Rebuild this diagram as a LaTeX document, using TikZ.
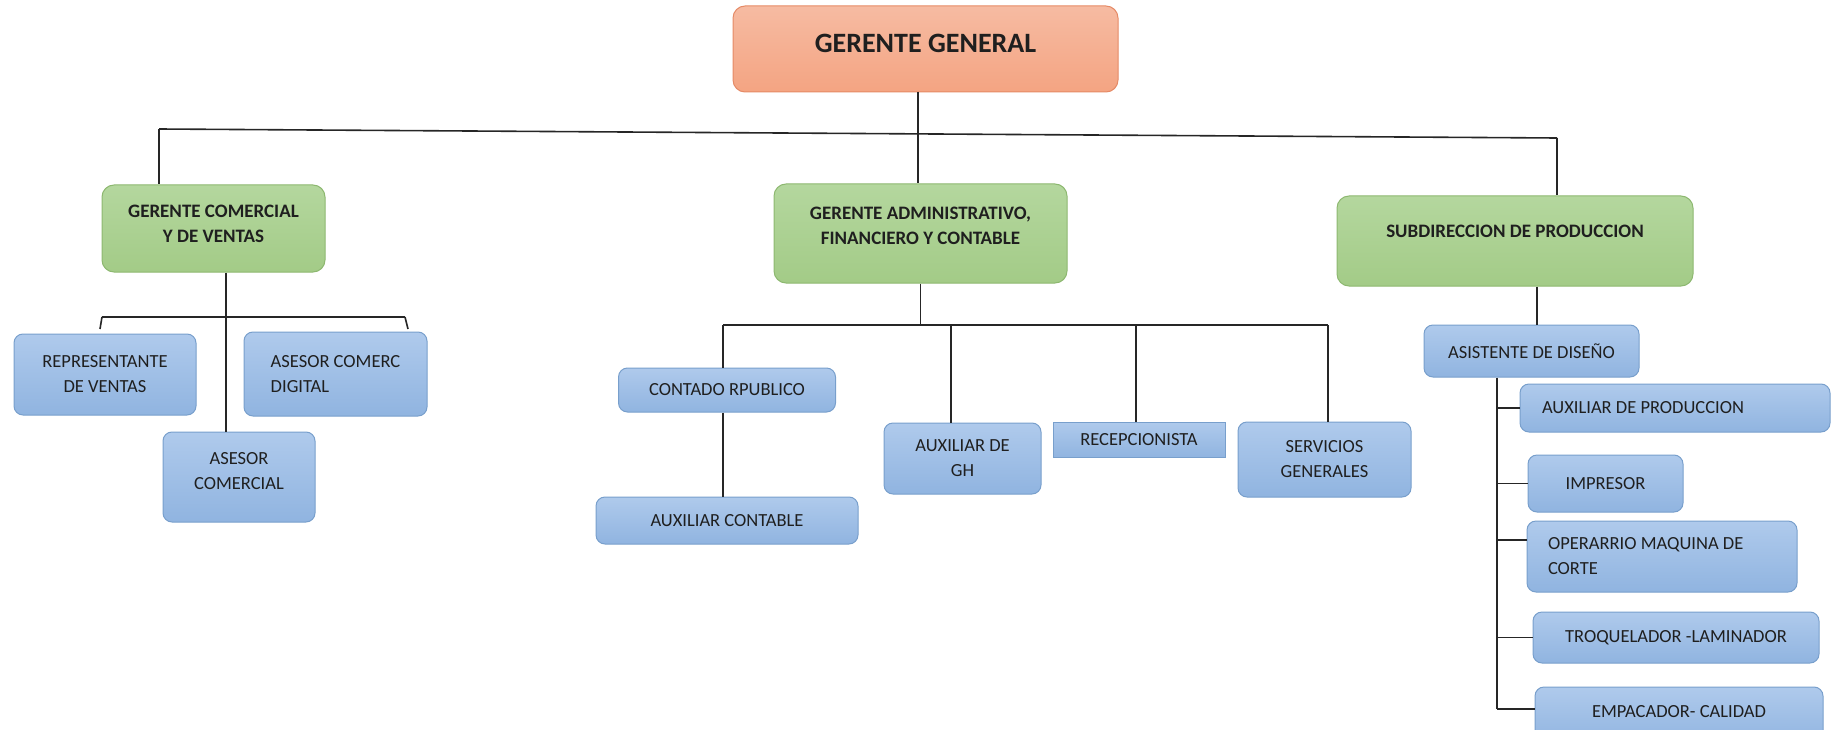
\documentclass[tikz,border=0pt]{standalone}
\usepackage{fontspec}
\setmainfont{Carlito}
\usetikzlibrary{positioning}

\definecolor{naranja}{HTML}{F4A482}
\definecolor{naranjaclaro}{HTML}{F6BBA2}
\definecolor{naranjaborde}{HTML}{E58A66}
\definecolor{verde}{HTML}{A3CB87}
\definecolor{verdeclaro}{HTML}{B4D79E}
\definecolor{verdeborde}{HTML}{8DB870}
\definecolor{azul}{HTML}{90B4E0}
\definecolor{azulclaro}{HTML}{AFCAEC}
\definecolor{azulborde}{HTML}{789FCC}

\begin{document}
\begin{tikzpicture}[x=1pt, y=-1pt,
	every node/.style={align=center,
                       inner sep=2pt,
                       text=black!88,
                       font=\fontsize{18.5}{25}\selectfont
                       },
	general/.style={draw=naranjaborde, line width=1pt,
                    rounded corners=12pt,
                    top color=naranjaclaro, bottom color=naranja,
                    font=\fontsize{28}{32}\selectfont\bfseries
    },
	area/.style={draw=verdeborde, line width=1pt,
                 rounded corners=12pt,
                 top color=verdeclaro, bottom color=verde,
                 font=\fontsize{19}{25}\selectfont\bfseries
    },
	cargo/.style={draw=azulborde, line width=1pt,
                  rounded corners=9pt,
                  top color=azulclaro, bottom color=azul
    },
	enlace/.style={line width=1.6pt, black!85}
]
	\useasboundingbox (0,0) rectangle (1838,730);

	% direccion
	\node (gg) [general, minimum width=385pt, minimum height=86pt, text depth=12pt] at (925.5,49) {GERENTE GENERAL};
	\node (gc) [area, minimum width=223pt, minimum height=87pt, text depth=10pt] at (213.5,228.5) {GERENTE COMERCIAL\\ Y DE VENTAS};
	\node (ga) [area, minimum width=293pt, minimum height=99pt, text depth=15pt] at (920.5,233.5) {GERENTE ADMINISTRATIVO,\\ FINANCIERO Y CONTABLE};
	\node (sp) [area, minimum width=356pt, minimum height=90pt, text depth=20pt] at (1515,241) {SUBDIRECCION DE PRODUCCION};

	% comercial
	\node (rep) [cargo, minimum width=182pt, minimum height=81pt] at (105,374.5) {REPRESENTANTE\\ DE VENTAS};
	\node (acd) [cargo, minimum width=183pt, minimum height=84pt, align=flush left] at (335.5,374) {ASESOR COMERC\\ DIGITAL};
	\node (ac) [cargo, minimum width=152pt, minimum height=90pt, text depth=13pt] at (239,477) {ASESOR\\ COMERCIAL};

	% administrativo
	\node (cr) [cargo, minimum width=217pt, minimum height=44pt] at (727,390) {CONTADO RPUBLICO};
	\node (acont) [cargo, minimum width=262pt, minimum height=47pt] at (727,520.5) {AUXILIAR CONTABLE};
	\node (agh) [cargo, minimum width=157pt, minimum height=71pt] at (962.5,458.5) {AUXILIAR DE\\ GH};
	\node (rec) [cargo, rounded corners=0pt, minimum width=172pt, minimum height=35pt] at (1139,439.5) {RECEPCIONISTA};
	\node (sg) [cargo, minimum width=173pt, minimum height=75pt] at (1324.5,459.5) {SERVICIOS\\ GENERALES};

	% produccion
	\node (add) [cargo, minimum width=215pt, minimum height=52pt] at (1531.5,351) {ASISTENTE DE DISEÑO};
	\node (ap) [cargo, minimum width=310pt, minimum height=48pt, text width=266pt, inner xsep=22pt, align=flush left] at (1675,408) {AUXILIAR DE PRODUCCION};
	\node (imp) [cargo, minimum width=155pt, minimum height=57pt] at (1605.5,483.5) {IMPRESOR};
	\node (omc) [cargo, minimum width=270pt, minimum height=71pt, text width=228pt, inner xsep=21pt, align=flush left] at (1662,556.5) {OPERARRIO MAQUINA DE\\ CORTE};
	\node (tl) [cargo, minimum width=286pt, minimum height=51pt] at (1676,637.5) {TROQUELADOR -LAMINADOR};
	\node (ec) [cargo, minimum width=288pt, minimum height=58pt, text depth=9pt] at (1679,716) {EMPACADOR- CALIDAD};

	% barra principal
	\coordinate (barL) at (159,129);
	\coordinate (barM) at (918,133);
	\coordinate (barR) at (1557,138);
	\draw[enlace] (barL) -- (barR);
	\draw[enlace] (gg.south -| barM) -- (barM);
	\draw[enlace] (barM) -- (ga.north -| barM);
	\draw[enlace] (barL) -- (gc.north -| barL);
	\draw[enlace] (barR) -- (sp.north -| barR);

	% comercial
	\coordinate (lj) at (226,317);
	\coordinate (lL) at (102,317);
	\coordinate (lR) at (405,317);
	\draw[enlace] (gc.south -| lj) -- (ac.north -| lj);
	\draw[enlace] (lL) -- (lR);
	\draw[enlace] (lL) -- ++(-2,12);
	\draw[enlace] (lR) -- ++(3,12);

	% administrativo
	\coordinate (aL) at (723,325);
	\coordinate (ag) at (951,325);
	\coordinate (ar) at (1136,325);
	\coordinate (aR) at (1328,325);
	\draw[enlace] (ga.south) -- (ga.south |- aL);
	\draw[enlace] (aL) -- (aR);
	\draw[enlace] (aL) -- (cr.north -| aL);
	\draw[enlace] (cr.south -| aL) -- (acont.north -| aL);
	\draw[enlace] (ag) -- (agh.north -| ag);
	\draw[enlace] (ar) -- (rec.north -| ar);
	\draw[enlace] (aR) -- (sg.north -| aR);

	% produccion
	\coordinate (pj) at (1537,300);
	\coordinate (spine) at (1497,709);
	\draw[enlace] (sp.south -| pj) -- (add.north -| pj);
	\draw[enlace] (add.south -| spine) -- (spine);
	\foreach \n in {ap,imp,tl}
		\draw[enlace] (\n.west -| spine) -- (\n.west);
	\draw[enlace] (spine) -- (spine -| ec.west);
	\draw[enlace] (omc.173 -| spine) -- (omc.173);
\end{tikzpicture}
\end{document}
